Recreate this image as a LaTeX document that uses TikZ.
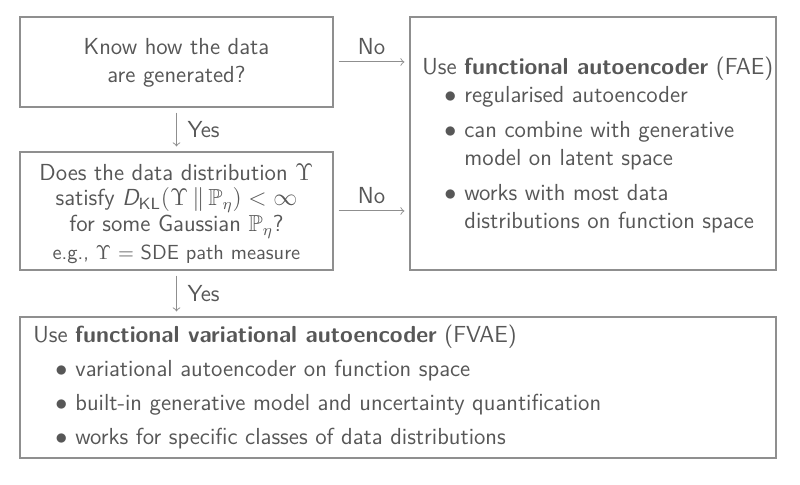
\documentclass[tikz,border=0pt]{standalone}
\usepackage{amsmath}
\usepackage{amssymb}
\usepackage{tikz}
\usetikzlibrary{fit}

\definecolor{txtgray}{HTML}{575757}
\definecolor{boxgray}{HTML}{8F8F8F}
\tikzset{
  box/.style={draw=boxgray, line width=0.6pt, inner sep=0pt},
  txt/.style={inner sep=0pt, text=txtgray, font=\sffamily\fontsize{11.6}{14}\selectfont},
  flow/.style={->, draw=boxgray, line width=0.5pt, shorten <=2.5pt, shorten >=2.5pt},
  lab/.style={text=txtgray, font=\sffamily\fontsize{11.6}{12}\selectfont},
}
\newcommand{\bul}{\hspace*{11pt}\makebox[10pt][l]{$\bullet$}}
\newcommand{\cont}{\hspace*{21pt}}

\begin{document}
\begin{tikzpicture}[x=0.5pt,y=-0.5pt]
\useasboundingbox (0,0) rectangle (800,485);

\node[box, fit={(20,17) (333,107)}] (know) {};
\node[box, fit={(20,152) (333,270)}] (dist) {};
\node[box, fit={(410,17) (776,270)}] (fae) {};
\node[box, fit={(20,317) (776,458)}] (fvae) {};

\node[txt, align=center, anchor=base] (knowtxt) at (176.5,83)
  {Know how the data\\are generated?};
\node[txt, align=center, anchor=base, font=\sffamily\fontsize{11.6}{12.75}\selectfont] (disttxt) at (176.5,260)
  {Does the data distribution $\Upsilon$\\
   satisfy $\text{\itshape D}_{\textsf{KL}}(\Upsilon\,\Vert\,\mathbb{P}_\eta) < \infty$\\
   for some Gaussian $\mathbb{P}_\eta$?\\[1.5pt]
   {\fontsize{10.2}{12}\selectfont e.g., $\Upsilon$ = SDE path measure}};
\node[txt, align=left, anchor=base west] (faetxt) at (422,229)
  {Use \textbf{functional autoencoder} (FAE)\\
   \bul regularised autoencoder\\[3.5pt]
   \bul can combine with generative\\
   \cont model on latent space\\[3.5pt]
   \bul works with most data\\
   \cont distributions on function space};
\node[txt, align=left, anchor=base west] (fvaetxt) at (33,445)
  {Use \textbf{functional variational autoencoder} (FVAE)\\[3pt]
   \bul variational autoencoder on function space\\[3pt]
   \bul built-in generative model and uncertainty quantification\\[3pt]
   \bul works for specific classes of data distributions};

\draw[flow] (know) -- node[lab, right=2pt] {Yes} (dist);
\draw[flow] (dist) -- node[lab, right=2pt] {Yes} (dist.south |- fvae.north);
\draw[flow] (know.east) -- node[lab, above] {No} (know.east -| fae.west);
\draw[flow] (dist.east) -- node[lab, above] {No} (dist.east -| fae.west);
\end{tikzpicture}
\end{document}
